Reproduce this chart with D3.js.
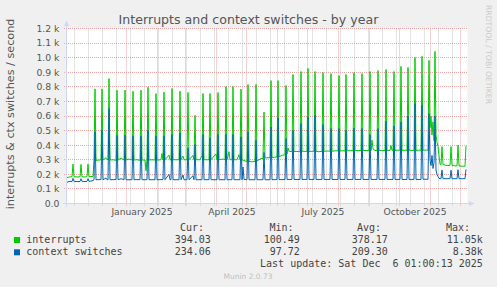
<!DOCTYPE html>
<meta charset="utf-8">

<head>
    <title>Interrupts and context switches - by year</title>
</head>

<style>
    body {
        margin: 0;
        background: #f0f0f0;
    }

    svg {
        display: block;
    }
</style>

<script src="https://d3js.org/d3.v7.min.js"></script>

<body>
    <div id="chart"></div>
</body>

<script>

    // daily values: [days since Nov 1 2024 01:00 UTC, value per second]
    var intrPoints = [
        [0, 172], [2, 180], [4, 182], [6, 184], [7, 270], [8, 184], [12, 182], [14, 183], [15, 268], [16, 183],
        [20, 182], [21, 184], [22, 270], [23, 184], [26, 185], [27, 186], [28, 296],
        [29, 786], [30, 296], [33, 298], [35, 300],
        [36, 786], [37, 298], [40, 314], [42, 298],
        [43, 857], [44, 298], [47, 300], [50, 296],
        [51, 777], [52, 298], [55, 310], [58, 298],
        [59, 777], [60, 298], [63, 305], [66, 298],
        [67, 770], [68, 298], [71, 300], [74, 296],
        [75, 777], [76, 298], [79, 298], [80, 225], [81, 298],
        [82, 797], [83, 298], [86, 300], [89, 298],
        [90, 754], [91, 298], [95, 300], [96, 343], [97, 300],
        [98, 763], [99, 300], [103, 332], [104, 300], [105, 298],
        [106, 788], [107, 300], [110, 300], [113, 300],
        [114, 770], [115, 300], [117, 325], [118, 300], [121, 300],
        [122, 761], [123, 300], [127, 330], [128, 300],
        [129, 605], [130, 300], [134, 300], [136, 330],
        [137, 754], [138, 300], [141, 300], [143, 300],
        [144, 754], [145, 300], [150, 340], [151, 300],
        [152, 761], [153, 300], [157, 305], [159, 300],
        [160, 802], [161, 300], [163, 355], [164, 300], [166, 300],
        [167, 802], [168, 300], [171, 300], [173, 335], [174, 300],
        [175, 784], [176, 300], [180, 290], [181, 288],
        [182, 816], [183, 288], [186, 286], [189, 288],
        [190, 816], [191, 292], [195, 308], [197, 310],
        [198, 627], [199, 312], [203, 315], [204, 312],
        [205, 843], [206, 314], [209, 318], [211, 320],
        [212, 843], [213, 320], [216, 330], [219, 335],
        [220, 809], [221, 338], [222, 380], [223, 358], [226, 355],
        [227, 885], [228, 356], [231, 357], [234, 355],
        [235, 905], [236, 358], [240, 357], [241, 358],
        [242, 926], [243, 357], [246, 358], [248, 358],
        [249, 905], [250, 358], [253, 355], [256, 358],
        [257, 898], [258, 358], [262, 360], [264, 358],
        [265, 891], [266, 358], [270, 362], [272, 360],
        [273, 877], [274, 360], [277, 362], [279, 360],
        [280, 885], [281, 362], [285, 362], [287, 362],
        [288, 898], [289, 362], [293, 364], [295, 362],
        [296, 891], [297, 362], [301, 364], [303, 362],
        [304, 905], [305, 362], [306, 434], [307, 375], [309, 364], [311, 362],
        [312, 912], [313, 364], [317, 364], [319, 364],
        [320, 919], [321, 364], [324, 364], [325, 398], [326, 366], [327, 364],
        [328, 905], [329, 364], [332, 366], [334, 364],
        [335, 940], [336, 364], [339, 366], [341, 364],
        [342, 933], [343, 366], [346, 364], [348, 364],
        [349, 1002], [350, 364], [353, 366], [355, 364],
        [356, 1009], [357, 366], [360, 366], [362, 366],
        [363, 981], [364, 520], [365, 600], [366, 470], [367, 560], [368, 430],
        [369, 1043], [370, 470], [371, 420], [372, 390], [373, 330], [374, 268], [375, 266],
        [376, 390], [377, 266], [380, 262], [384, 260],
        [385, 390], [386, 262], [389, 258], [391, 258],
        [392, 400], [393, 258], [396, 256], [399, 256],
        [400, 394]
    ];

    var ctxPoints = [
        [0, 145], [2, 148], [4, 152], [6, 150], [7, 172], [8, 152], [12, 150], [14, 151], [15, 170], [16, 152],
        [20, 150], [21, 152], [22, 170], [23, 152], [26, 155], [27, 158], [28, 163],
        [29, 491], [30, 163], [35, 164],
        [36, 502], [37, 163], [40, 175], [41, 163], [42, 163],
        [43, 650], [44, 163], [50, 164],
        [51, 468], [52, 163], [55, 170], [58, 163],
        [59, 468], [60, 163], [66, 163],
        [67, 464], [68, 163], [74, 164],
        [75, 464], [76, 163], [81, 163],
        [82, 502], [83, 163], [89, 163],
        [90, 464], [91, 163], [97, 164],
        [98, 464], [99, 163], [103, 200], [104, 163], [105, 163],
        [106, 473], [107, 163], [113, 163],
        [114, 484], [115, 163], [117, 195], [118, 163], [121, 163],
        [122, 382], [123, 163], [127, 190], [128, 163],
        [129, 405], [130, 163], [136, 163],
        [137, 473], [138, 163], [143, 163],
        [144, 450], [145, 163], [151, 163],
        [152, 473], [153, 163], [159, 163],
        [160, 473], [161, 163], [166, 163],
        [167, 473], [168, 163], [174, 163],
        [175, 457], [176, 163], [177, 250], [178, 165], [181, 163],
        [182, 491], [183, 163], [189, 163],
        [190, 434], [191, 163], [197, 163],
        [198, 350], [199, 163], [204, 163],
        [205, 525], [206, 163], [211, 164],
        [212, 586], [213, 164], [219, 164],
        [220, 445], [221, 165], [226, 165],
        [227, 502], [228, 165], [234, 165],
        [235, 548], [236, 165], [241, 165],
        [242, 593], [243, 165], [248, 165],
        [249, 605], [250, 165], [256, 165],
        [257, 541], [258, 165], [264, 165],
        [265, 514], [266, 165], [272, 165],
        [273, 514], [274, 165], [279, 165],
        [280, 502], [281, 165], [287, 165],
        [288, 518], [289, 165], [295, 165],
        [296, 514], [297, 165], [303, 165],
        [304, 473], [305, 165], [311, 165],
        [312, 514], [313, 165], [319, 165],
        [320, 564], [321, 165], [327, 165],
        [328, 532], [329, 165], [334, 165],
        [335, 559], [336, 165], [341, 165],
        [342, 600], [343, 165], [348, 165],
        [349, 684], [350, 165], [355, 165],
        [356, 673], [357, 166], [362, 166],
        [363, 616], [364, 300], [365, 260], [366, 330], [367, 240], [368, 280],
        [369, 600], [370, 230], [371, 200], [372, 185], [373, 172], [375, 170],
        [376, 230], [377, 170], [384, 170],
        [385, 228], [386, 170], [391, 170],
        [392, 232], [393, 170], [399, 170],
        [400, 234]
    ];

    var yTicks = [0, 100, 200, 300, 400, 500, 600, 700, 800, 900, 1000, 1100, 1200];
    var yTickLabels = ["0.0", "0.1 k", "0.2 k", "0.3 k", "0.4 k", "0.5 k", "0.6 k",
        "0.7 k", "0.8 k", "0.9 k", "1.0 k", "1.1 k", "1.2 k"];

    var monthLabelStarts = ["2025-01-01", "2025-04-01", "2025-07-01", "2025-10-01"];
    var monthLabels = ["January 2025", "April 2025", "July 2025", "October 2025"];

    var seriesNames = ["interrupts", "context switches"];
    var curValues = ["394.03", "234.06"];
    var minValues = ["100.49", "97.72"];
    var avgValues = ["378.17", "209.30"];
    var maxValues = ["11.05k", "8.38k"];

    var lastUpdate = "Last update: Sat Dec  6 01:00:13 2025";

    // graph window: 400 days up to the last update
    var t0 = Date.UTC(2024, 10, 1, 1);
    var t1 = Date.UTC(2025, 11, 6, 1);
    function dayToDate(d) { return new Date(t0 + d * 86400000); }

    var W = 497, H = 287;
    var plotLeft = 66, plotRight = 466, plotTop = 28.5, plotBottom = 203.5;

    var svg = d3.select("#chart")
        .append("svg")
        .attr("width", W)
        .attr("height", H);

    svg.append("rect").attr("width", W).attr("height", H).attr("fill", "#f0f0f0");

    var x = d3.scaleUtc()
        .domain([new Date(t0), new Date(t1)])
        .range([plotLeft, plotRight]);

    var y = d3.scaleLinear()
        .domain([0, 1200])
        .range([plotBottom, plotTop]);

    var color = d3.scaleOrdinal()
        .domain(seriesNames)
        .range(["#00cc00", "#0066b3"]);

    // canvas
    svg.append("rect")
        .attr("x", plotLeft)
        .attr("y", plotTop)
        .attr("width", plotRight - plotLeft + 1.5)
        .attr("height", plotBottom - plotTop)
        .attr("fill", "#ffffff");

    function snap(v) { return Math.floor(v) + 0.5; }

    // minor grid, every other sunday
    var sundays = d3.utcSunday.range(new Date(t0), new Date(t1)).filter(function (d, i) { return i % 2 === 1; });
    svg.append("g")
        .selectAll("line")
        .data(sundays)
        .join("line")
        .attr("x1", function (d) { return snap(x(d)); })
        .attr("x2", function (d) { return snap(x(d)); })
        .attr("y1", plotTop)
        .attr("y2", plotBottom + 2)
        .attr("stroke", "#c8c8c8")
        .attr("stroke-dasharray", "1,1");

    // major grid, months
    var months = d3.utcMonth.range(new Date(t0), new Date(t1)).slice(1);
    svg.append("g")
        .selectAll("line")
        .data(months)
        .join("line")
        .attr("x1", function (d) { return snap(x(d)); })
        .attr("x2", function (d) { return snap(x(d)); })
        .attr("y1", plotTop)
        .attr("y2", plotBottom + 2)
        .attr("stroke", "#eca4a4")
        .attr("stroke-dasharray", "1,1");

    svg.append("g")
        .selectAll("line")
        .data(yTicks.slice(1))
        .join("line")
        .attr("x1", plotLeft - 2)
        .attr("x2", plotRight + 1.5)
        .attr("y1", function (d) { return snap(y(d)); })
        .attr("y2", function (d) { return snap(y(d)); })
        .attr("stroke", "#eca4a4")
        .attr("stroke-dasharray", "1,1");

    // y labels
    svg.append("g")
        .selectAll("text")
        .data(yTicks)
        .join("text")
        .attr("x", plotLeft - 6.5)
        .attr("y", function (d) { return y(d) + 3.4; })
        .attr("text-anchor", "end")
        .attr("font-family", "DejaVu Sans")
        .attr("font-size", "9.3px")
        .attr("fill", "#555")
        .text(function (d, i) { return yTickLabels[i]; });

    // x labels, centred half a month after the start
    svg.append("g")
        .selectAll("text")
        .data(monthLabelStarts)
        .join("text")
        .attr("x", function (d) { return x(new Date(Date.parse(d) + 15 * 86400000)); })
        .attr("y", 215)
        .attr("text-anchor", "middle")
        .attr("font-family", "DejaVu Sans")
        .attr("font-size", "9.2px")
        .attr("fill", "#555")
        .text(function (d, i) { return monthLabels[i]; });

    // the two lines
    var line = d3.line()
        .x(function (d) { return x(dayToDate(d[0])); })
        .y(function (d) { return y(d[1]); });

    svg.append("path")
        .datum(intrPoints)
        .attr("fill", "none")
        .attr("stroke", color("interrupts"))
        .attr("stroke-width", 1)
        .attr("d", line);

    svg.append("path")
        .datum(ctxPoints)
        .attr("fill", "none")
        .attr("stroke", color("context switches"))
        .attr("stroke-width", 1)
        .attr("d", line);

    // axes with arrows
    var axisColor = "#cfd6f8";
    svg.append("line")
        .attr("x1", plotLeft + 0.5).attr("x2", plotLeft + 0.5)
        .attr("y1", plotBottom + 3).attr("y2", 24)
        .attr("stroke", axisColor);
    svg.append("path")
        .attr("d", "M" + (plotLeft - 2) + ",26L" + (plotLeft + 0.5) + ",20.5L" + (plotLeft + 3) + ",26Z")
        .attr("fill", axisColor);
    svg.append("line")
        .attr("x1", plotLeft - 3).attr("x2", plotRight + 5)
        .attr("y1", plotBottom).attr("y2", plotBottom)
        .attr("stroke", axisColor);
    svg.append("path")
        .attr("d", "M" + (plotRight + 3) + "," + (plotBottom - 2.5) + "L" + (plotRight + 8.5) + "," + plotBottom + "L" + (plotRight + 3) + "," + (plotBottom + 2.5) + "Z")
        .attr("fill", axisColor);

    // title
    svg.append("text")
        .attr("x", 248.5)
        .attr("y", 24.3)
        .attr("text-anchor", "middle")
        .attr("font-family", "DejaVu Sans")
        .attr("font-size", "12.6px")
        .attr("fill", "#555")
        .text("Interrupts and context switches - by year");

    // vertical label
    svg.append("text")
        .attr("transform", "translate(13.5,114) rotate(-90)")
        .attr("text-anchor", "middle")
        .attr("font-family", "DejaVu Sans")
        .attr("font-size", "11.2px")
        .attr("fill", "#555")
        .text("interrupts & ctx switches / second");

    // watermark
    svg.append("text")
        .attr("transform", "translate(485.5,5) rotate(90)")
        .attr("font-family", "DejaVu Sans")
        .attr("font-size", "7.7px")
        .attr("fill", "#cccccc")
        .text("RRDTOOL / TOBI OETIKER");

    // legend
    var mono = "DejaVu Sans Mono";
    var heads = [["Cur:", 204], ["Min:", 293.5], ["Avg:", 381], ["Max:", 470]];
    svg.append("g")
        .selectAll("text")
        .data(heads)
        .join("text")
        .attr("x", function (d) { return d[1]; })
        .attr("y", 230.8)
        .attr("text-anchor", "end")
        .attr("font-family", mono)
        .attr("font-size", "10px")
        .attr("fill", "#444")
        .text(function (d) { return d[0]; });

    var cols = [curValues, minValues, avgValues, maxValues];
    var colRight = [210.8, 299.8, 387.8, 482.8];

    seriesNames.forEach(function (name, i) {
        var base = 243 + i * 12.3;
        svg.append("rect")
            .attr("x", 14)
            .attr("y", base - 6)
            .attr("width", 6)
            .attr("height", 6)
            .attr("fill", color(name));
        svg.append("text")
            .attr("x", 26.3)
            .attr("y", base)
            .attr("font-family", mono)
            .attr("font-size", "10px")
            .attr("fill", "#444")
            .text(name);
        cols.forEach(function (vals, j) {
            svg.append("text")
                .attr("x", colRight[j])
                .attr("y", base)
                .attr("text-anchor", "end")
                .attr("font-family", mono)
                .attr("font-size", "10px")
                .attr("fill", "#444")
                .text(vals[i]);
        });
    });

    svg.append("text")
        .attr("x", 482.8)
        .attr("y", 266.8)
        .attr("text-anchor", "end")
        .attr("font-family", mono)
        .attr("font-size", "10px")
        .attr("fill", "#444")
        .style("white-space", "pre")
        .text(lastUpdate);

    svg.append("text")
        .attr("x", 248)
        .attr("y", 278.7)
        .attr("text-anchor", "middle")
        .attr("font-family", "DejaVu Sans")
        .attr("font-size", "7.5px")
        .attr("fill", "#c0c0c0")
        .text("Munin 2.0.73");

</script>
